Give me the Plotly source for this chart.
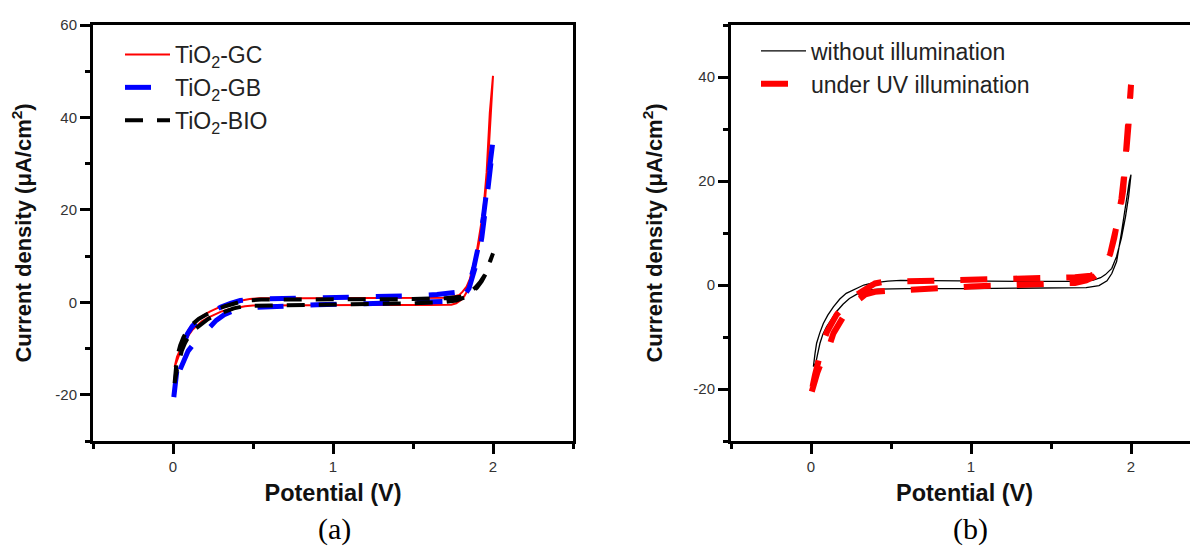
import plotly.graph_objects as go

# ---------------- Panel (a): cyclic voltammograms of three TiO2 films ----------------
gc_potential = [0.01, 0.015, 0.025, 0.04, 0.054, 0.075, 0.096, 0.12, 0.148, 0.19, 0.23, 0.28, 0.335, 0.38,
                0.42, 0.48, 0.54, 0.8, 1.2, 1.5, 1.7, 1.76, 1.79, 1.81, 1.835, 1.855, 1.87, 1.9, 1.92, 1.94,
                1.96, 1.98, 2.0,
                1.985, 1.97, 1.95, 1.93, 1.9, 1.87, 1.855, 1.84, 1.82, 1.8, 1.77, 1.74, 1.6, 1.2, 0.8, 0.5,
                0.45, 0.4, 0.35, 0.3, 0.26, 0.22, 0.18, 0.15, 0.12, 0.1, 0.08, 0.06, 0.045, 0.03, 0.02, 0.01]
gc_current = [-14, -13, -11.8, -10.6, -9.6, -7.6, -6.0, -4.8, -3.8, -2.8, -2.0, -1.2, -0.6, 0.0,
              0.35, 0.7, 0.9, 0.9, 0.9, 0.9, 1.0, 1.3, 1.6, 2.3, 3.4, 5.0, 7.0, 11.3, 15.6, 20,
              28, 41, 49,
              40, 31, 22, 16, 10.5, 6, 4, 2.5, 1.3, 0.5, -0.2, -0.5, -0.6, -0.6, -0.6, -0.7,
              -0.85, -1.1, -1.5, -2.0, -2.6, -3.3, -4.1, -5.0, -6.0, -7.0, -8.2, -9.5, -10.8, -12, -13, -14]

gb_potential = [0.005, 0.012, 0.02, 0.03, 0.045, 0.065, 0.09, 0.12, 0.16, 0.2, 0.25, 0.3, 0.36, 0.42, 0.5,
                0.7, 1.0, 1.3, 1.5, 1.65, 1.75, 1.8, 1.83, 1.86, 1.88, 1.9, 1.92, 1.94, 1.96, 1.98, 2.0,
                1.99, 1.97, 1.95, 1.93, 1.91, 1.88, 1.85, 1.82, 1.78, 1.7, 1.5, 1.2, 0.9, 0.7, 0.55, 0.45,
                0.38, 0.32, 0.27, 0.23, 0.19, 0.15, 0.12, 0.095, 0.07, 0.045, 0.025, 0.012, 0.005]
gb_current = [-20.5, -18, -15, -13, -11, -8.8, -6.8, -5.2, -3.8, -2.8, -1.8, -1.0, -0.2, 0.4, 0.7,
              0.8, 1.0, 1.2, 1.4, 1.7, 2.0, 2.3, 3.0, 5.0, 7.5, 10.5, 14, 18.5, 24, 30, 35,
              31, 25, 19, 14, 10, 6, 3, 1.5, 0.6, 0.2, -0.1, -0.3, -0.5, -0.7, -0.9, -1.2,
              -1.8, -2.7, -3.9, -5.3, -6.8, -8.2, -9.4, -10.5, -12.3, -14.5, -16.8, -18.8, -20.5]

bio_potential = [0.01, 0.015, 0.022, 0.032, 0.045, 0.065, 0.09, 0.12, 0.16, 0.2, 0.26, 0.32, 0.38, 0.44,
                 0.55, 0.8, 1.2, 1.5, 1.7, 1.8, 1.85, 1.89, 1.92, 1.95, 1.975, 2.0,
                 1.98, 1.955, 1.93, 1.9, 1.86, 1.82, 1.77, 1.7, 1.5, 1.0, 0.6, 0.45, 0.38, 0.32, 0.27,
                 0.22, 0.17, 0.13, 0.1, 0.075, 0.055, 0.04, 0.025, 0.01]
bio_current = [-17.5, -15, -13, -11, -9.3, -7.6, -6.0, -4.8, -3.6, -2.8, -1.7, -0.9, -0.2, 0.3,
               0.6, 0.6, 0.6, 0.7, 0.9, 1.2, 2.0, 3.2, 4.4, 6.0, 8.3, 10.6,
               8.5, 6.2, 4.6, 3.2, 1.9, 1.0, 0.4, 0.1, -0.2, -0.4, -0.6, -0.8, -1.3, -2.0, -2.7,
               -3.6, -4.8, -6.0, -7.3, -8.8, -10.5, -12.3, -14.5, -17.5]

# ---------------- Panel (b): with / without UV illumination ----------------
dark_potential = [0.015, 0.03, 0.04, 0.056, 0.075, 0.098, 0.13, 0.16, 0.2, 0.24, 0.29, 0.35, 0.42, 0.6,
                  1.0, 1.4, 1.65, 1.72, 1.8, 1.85, 1.88, 1.91, 1.94, 1.97, 1.99, 2.0,
                  1.985, 1.965, 1.94, 1.91, 1.88, 1.84, 1.81, 1.76, 1.65, 1.3, 1.0, 0.7, 0.56, 0.48,
                  0.43, 0.38, 0.33, 0.28, 0.22, 0.18, 0.14, 0.105, 0.077, 0.055, 0.035, 0.025, 0.015]
dark_current = [-15.7, -15.0, -13.5, -11.2, -9.4, -8.0, -6.5, -5.1, -3.7, -2.6, -1.7, -1.0, -0.8, -0.7,
                -0.7, -0.65, -0.6, -0.5, -0.1, 0.8, 2.2, 4.5, 10, 16.3, 20, 21.2,
                17, 13, 9, 5.5, 3.2, 2.0, 1.4, 0.9, 0.7, 0.7, 0.8, 0.9, 0.9, 0.75,
                0.6, 0.35, 0.0, -0.7, -1.6, -2.7, -4.2, -5.8, -7.4, -9.2, -11.2, -13.2, -15.7]

uv_potential = [0.005, 0.02, 0.04, 0.06, 0.08, 0.1, 0.12, 0.14, 0.17, 0.2, 0.24, 0.29, 0.34, 0.4, 0.5,
                0.6, 0.8, 1.0, 1.2, 1.4, 1.55, 1.65, 1.72, 1.77, 1.81, 1.84, 1.87, 1.9, 1.93, 1.95, 1.97,
                1.985, 2.0,
                1.99, 1.975, 1.96, 1.94, 1.92, 1.895, 1.87, 1.84, 1.8, 1.75, 1.65, 1.5, 1.3, 1.0, 0.7,
                0.55, 0.45, 0.4, 0.36, 0.32, 0.28, 0.24, 0.2, 0.16, 0.13, 0.1, 0.08, 0.06, 0.04, 0.025,
                0.012, 0.005]
uv_current = [-20.5, -18.5, -16.8, -15.2, -14.0, -12.8, -11.2, -9.3, -7.5, -6.2, -4.8, -3.0, -1.8, -1.3, -1.1,
              -1.0, -0.6, -0.3, -0.1, 0.0, 0.1, 0.4, 0.9, 1.6, 2.6, 3.6, 6.0, 9.5, 14, 18, 24,
              31, 38.5,
              34, 28, 22, 16.5, 12.5, 9, 6, 3.8, 2.4, 1.8, 1.5, 1.4, 1.2, 1.0, 1.0,
              0.9, 0.6, 0.3, -0.3, -1.2, -2.0, -3.0, -4.3, -5.7, -7.2, -9.0, -10.6, -12.8, -15.2, -17.3,
              -19.2, -20.5]

# tick values / labels (hyphen minus as in the original figure)
x_tickvals = [0, 1, 2]
x_ticktext = ["0", "1", "2"]
ya_tickvals = [-20, 0, 20, 40, 60]
ya_ticktext = ["-20", "0", "20", "40", "60"]
yb_tickvals = [-20, 0, 20, 40]
yb_ticktext = ["-20", "0", "20", "40"]

# The page body has an 8 px margin, so the figure is drawn 8 px right / down.
OFF = 8
W, H = 1198 - OFF, 549 - OFF
PL, PR = 0, 0
PT = 25 - OFF          # plot top at screen y = 25
PB = H - (441 - OFF)   # plot bottom at screen y = 441

FONT = "Liberation Sans"

fig = go.Figure()

fig.add_trace(go.Scatter(x=gc_potential, y=gc_current, mode="lines", name="TiO<sub>2</sub>-GC",
                         line=dict(color="#ff0000", width=2), legendgroup="gc", legend="legend",
                         xaxis="x", yaxis="y"))
fig.add_trace(go.Scatter(x=gb_potential, y=gb_current, mode="lines", name="TiO<sub>2</sub>-GB",
                         line=dict(color="#0000ff", width=5, dash="26px,27px"), legendgroup="gb",
                         legend="legend", xaxis="x", yaxis="y"))
fig.add_trace(go.Scatter(x=bio_potential, y=bio_current, mode="lines", name="TiO<sub>2</sub>-BIO",
                         line=dict(color="#000000", width=4, dash="18px,14px"), legendgroup="bio",
                         legend="legend", xaxis="x", yaxis="y"))

fig.add_trace(go.Scatter(x=dark_potential, y=dark_current, mode="lines", name="without illumination",
                         line=dict(color="#000000", width=1.3), legendgroup="dark", legend="legend2",
                         xaxis="x2", yaxis="y2"))
fig.add_trace(go.Scatter(x=uv_potential, y=uv_current, mode="lines", name="under UV illumination",
                         line=dict(color="#ff0000", width=6, dash="27px,26px"), legendgroup="uv",
                         legend="legend2", xaxis="x2", yaxis="y2"))

tickfont = dict(family=FONT, size=15, color="#333333")
xtitlefont = dict(family=FONT, size=23.5, color="#111111", weight="bold")
ytitlefont = dict(family=FONT, size=22, color="#111111", weight="bold")


def xaxis_cfg(domain, rng):
    return dict(domain=domain, range=rng, tickmode="array", tickvals=x_tickvals, ticktext=x_ticktext,
                ticks="outside", ticklen=10, tickwidth=3, tickcolor="black",
                showline=True, linewidth=3, linecolor="black", mirror=True,
                showgrid=False, zeroline=False, tickfont=tickfont,
                minor=dict(tick0=0, dtick=0.5, ticks="outside", ticklen=5, tickwidth=3,
                           tickcolor="black", showgrid=False),
                title=dict(text="Potential (V)", font=xtitlefont, standoff=11))


def yaxis_cfg(rng, mirror, tv, tt):
    return dict(range=rng, tickmode="array", tickvals=tv, ticktext=tt,
                ticks="outside", ticklen=10, tickwidth=3, tickcolor="black",
                showline=True, linewidth=3, linecolor="black", mirror=mirror,
                showgrid=False, zeroline=False, tickfont=tickfont,
                minor=dict(tick0=0, dtick=10, ticks="outside", ticklen=5, tickwidth=3,
                           tickcolor="black", showgrid=False),
                title=dict(text="Current density (\u03bcA/cm<sup>2</sup>)", font=ytitlefont, standoff=25))


def px_x(p):
    """screen pixel x -> paper x"""
    return (p - OFF - PL) / (W - PL - PR)


def px_y(p):
    """screen pixel y -> paper y"""
    return (H - PB - (p - OFF)) / (H - PT - PB)


ax_a = [px_x(93), px_x(573)]
ax_b = [px_x(731), 1.0]
xb_max = -0.5 + 3.0 * (1198 - 731) / (573 - 93)

legend_font = dict(family=FONT, size=23, color="#222222")

fig.update_layout(
    width=W, height=H,
    margin=dict(l=PL, r=PR, t=PT, b=PB, autoexpand=False),
    paper_bgcolor="white", plot_bgcolor="white",
    xaxis=xaxis_cfg(ax_a, [-0.5, 2.5]) | dict(anchor="y"),
    yaxis=yaxis_cfg([-30, 60], True, ya_tickvals, ya_ticktext) | dict(anchor="x"),
    xaxis2=xaxis_cfg(ax_b, [-0.5, xb_max]) | dict(anchor="y2"),
    yaxis2=yaxis_cfg([-30, 50], False, yb_tickvals, yb_ticktext) | dict(anchor="x2"),
    legend=dict(x=px_x(120), y=px_y(33), xanchor="left", yanchor="top", font=legend_font,
                bgcolor="rgba(0,0,0,0)", itemwidth=45, traceorder="grouped", tracegroupgap=0),
    legend2=dict(x=px_x(756), y=px_y(29.5), xanchor="left", yanchor="top", font=legend_font,
                 bgcolor="rgba(0,0,0,0)", itemwidth=45, traceorder="grouped", tracegroupgap=0),
    annotations=[
        dict(text="(a)", x=px_x(334), y=px_y(529), xref="paper", yref="paper", showarrow=False,
             xanchor="center", yanchor="middle",
             font=dict(family="Liberation Serif", size=30, color="black")),
        dict(text="(b)", x=px_x(970), y=px_y(529), xref="paper", yref="paper", showarrow=False,
             xanchor="center", yanchor="middle",
             font=dict(family="Liberation Serif", size=30, color="black")),
    ],
)

fig.write_html("out.html")
